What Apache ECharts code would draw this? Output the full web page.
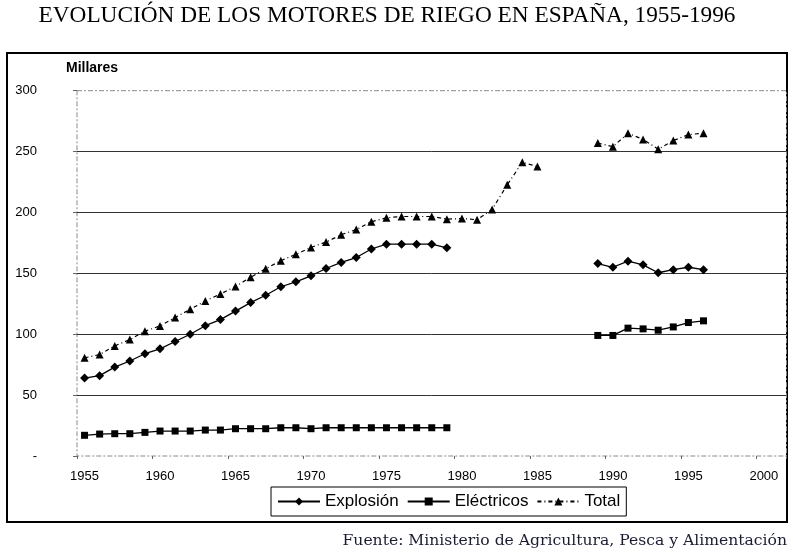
<!DOCTYPE html>
<html>
<head>
<meta charset="utf-8">
<script src="https://cdn.jsdelivr.net/npm/echarts@6/dist/echarts.min.js"></script>
<style>
    html, body { margin: 0; padding: 0; background: #fff; }
    #chart { width: 793px; height: 557px; }
</style>
</head>
<body>
<div id="chart"></div>
<script>
// categories: one per year, the axis runs one year past the last label
var years = ['1955','1956','1957','1958','1959','1960','1961','1962','1963','1964',
             '1965','1966','1967','1968','1969','1970','1971','1972','1973','1974',
             '1975','1976','1977','1978','1979','1980','1981','1982','1983','1984',
             '1985','1986','1987','1988','1989','1990','1991','1992','1993','1994',
             '1995','1996','1997','1998','1999','2000','2001'];

// miles de motores
var explosion = [64, 66, 73, 78, 84, 88, 94, 100, 107, 112,
                 119, 126, 132, 139, 143, 148, 154, 159, 163, 170,
                 174, 174, 174, 174, 171, null, null, null, null, null,
                 null, null, null, null, 158, 155, 160, 157, 150.5, 153,
                 155, 153, null, null, null, null, null];

var electricos = [17, 18, 18.3, 18.3, 19.4, 20.5, 20.5, 20.5, 21.3, 21.3,
                  22.4, 22.4, 22.4, 23.2, 23.2, 22.4, 23.2, 23.2, 23.2, 23.2,
                  23.2, 23.2, 23.2, 23.2, 23.2, null, null, null, null, null,
                  null, null, null, null, 99, 99, 105, 104.4, 103.3, 106,
                  109.6, 111, null, null, null, null, null];

var total = [80.6, 83.3, 90.4, 95.6, 102.5, 106.8, 113.7, 120.5, 127.3, 133,
             139.3, 146.7, 153.8, 160.4, 165.6, 171.3, 175.7, 181.7, 186, 192.4,
             195.6, 196.7, 196.7, 196.7, 194.5, 195, 194, 202.5, 222.7, 241.2,
             237.7, null, null, null, 257, 254, 265, 260, 252, 259,
             264, 265, null, null, null, null, null];

var yTicks = [0, 50, 100, 150, 200, 250, 300];

var chart = echarts.init(document.getElementById('chart'));

var option = {
    animation: false,
    backgroundColor: '#fff',
    textStyle: { fontFamily: 'Liberation Sans' },
    grid: {
        left: 77,
        right: 6.5,
        top: 90.7,
        bottom: 101,
        show: true,
        borderColor: '#8a8a8a',
        borderWidth: 1,
        borderType: [5, 2, 2, 2]
    },
    graphic: [
        {
            type: 'rect',
            z: -1,
            shape: { x: 7, y: 53, width: 780, height: 469 },
            style: { fill: 'none', stroke: '#000', lineWidth: 2 }
        },
        {
            type: 'text',
            x: 387, y: 16,
            style: {
                text: 'EVOLUCIÓN DE LOS MOTORES DE RIEGO EN ESPAÑA, 1955-1996',
                font: '23.3px "Liberation Serif"',
                fill: '#000',
                textAlign: 'center',
                textVerticalAlign: 'middle'
            }
        },
        {
            type: 'text',
            x: 66, y: 68,
            style: {
                text: 'Millares',
                font: 'bold 14px "Liberation Sans"',
                fill: '#000',
                textVerticalAlign: 'middle'
            }
        },
        {
            type: 'text',
            x: 787, y: 541,
            style: {
                text: 'Fuente: Ministerio de Agricultura, Pesca y Alimentación',
                font: '15.6px "DejaVu Serif"',
                fill: '#1b1b33',
                textAlign: 'right',
                textVerticalAlign: 'middle'
            }
        }
    ],
    legend: {
        data: ['Explosión', 'Eléctricos', 'Total'],
        left: 271,
        top: 487,
        itemWidth: 42,
        itemHeight: 10,
        itemGap: 8,
        padding: [6, 6, 6, 6],
        borderColor: '#000',
        borderWidth: 1,
        backgroundColor: '#fff',
        textStyle: { fontSize: 17, color: '#000', fontFamily: 'Liberation Sans' }
    },
    xAxis: {
        type: 'category',
        data: years,
        boundaryGap: true,
        axisLine: { show: false },
        axisTick: { show: true, interval: 4, length: 3, lineStyle: { color: '#666' } },
        axisLabel: { interval: 4, margin: 14, fontSize: 13, color: '#000',
            formatter: function (v) { return v === '2001' ? '' : v; } },
        splitLine: { show: false }
    },
    yAxis: {
        type: 'value',
        min: yTicks[0],
        max: yTicks[yTicks.length - 1],
        interval: 50,
        axisLine: { show: false },
        axisTick: { show: true, length: 4, lineStyle: { color: '#666' } },
        axisLabel: {
            margin: 40, fontSize: 13, color: '#000',
            formatter: function (v) { return v === 0 ? '-' : v; }
        },
        splitLine: {
            show: true,
            lineStyle: {
                color: ['transparent', '#333', '#333', '#333', '#333', '#333', 'transparent'],
                width: 1
            }
        }
    },
    series: [
        {
            name: 'Explosión',
            type: 'line',
            data: explosion,
            symbol: 'diamond',
            symbolSize: 9,
            connectNulls: false,
            itemStyle: { color: '#000' },
            lineStyle: { color: '#000', width: 1.3 }
        },
        {
            name: 'Eléctricos',
            type: 'line',
            data: electricos,
            symbol: 'rect',
            symbolSize: 7,
            connectNulls: false,
            itemStyle: { color: '#000' },
            lineStyle: { color: '#000', width: 1.3 }
        },
        {
            name: 'Total',
            type: 'line',
            data: total,
            symbol: 'triangle',
            symbolSize: 8,
            connectNulls: false,
            itemStyle: { color: '#000' },
            lineStyle: { color: '#000', width: 1.2, type: [4, 3, 1, 3] }
        }
    ]
};

chart.setOption(option);
window.onresize = chart.resize;
</script>
</body>
</html>
